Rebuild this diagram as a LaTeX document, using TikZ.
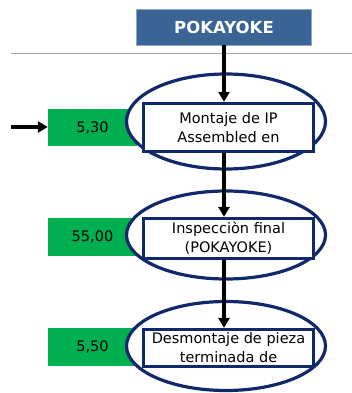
\documentclass[tikz,border=0pt]{standalone}
\usepackage{fontspec}
\setmainfont{DejaVu Sans}
\usepackage{xcolor}
\definecolor{colorHeader}{HTML}{3A6496}
\definecolor{colorHeaderEdge}{HTML}{8FA8C8}
\definecolor{colorNavy}{HTML}{10296B}
\definecolor{colorTime}{HTML}{00B050}
\definecolor{colorRule}{HTML}{A6A6A6}
\usetikzlibrary{arrows.meta, positioning, shapes.geometric}
\tikzset{
  opring/.style={ellipse, draw=colorNavy, line width=3.2pt, fill=white, minimum width=199pt, inner sep=0pt},
  opbox/.style={rectangle, draw=colorNavy, line width=3.2pt, fill=white, align=center, minimum width=170pt, inner sep=0pt, font=\fontsize{14.5}{19}\selectfont},
  timebox/.style={rectangle, fill=colorTime, minimum width=89pt, inner sep=0pt, font=\fontsize{14.5}{17}\selectfont},
  flow/.style={-{Triangle[length=10pt, width=11pt]}, black, line width=3.2pt}
}

\begin{document}
\begin{tikzpicture}[x=1pt, y=-1pt]
\useasboundingbox (0,0) rectangle (352,393);
% header and rule
\node[rectangle, fill=colorHeader, draw=colorHeaderEdge, line width=0.8pt, minimum width=175pt, minimum height=36pt, text=white, font=\fontsize{16.5}{18}\selectfont\bfseries] (pk) at (224,27) {POKAYOKE};
\draw[colorRule, line width=1pt] (11,54) -- (352,54);

% time values
\node[timebox, minimum height=37pt] (t1) at (92.5,127.5) {5,30};
\node[timebox, minimum height=38pt] (t2) at (92.5,237) {55,00};
\node[timebox, minimum height=38pt] (t3) at (92.5,347) {5,50};

% operations
\node[opring, minimum height=95pt] (e1) at (226,121.5) {};
\node[opring, minimum height=88pt] (e2) at (226,235) {};
\node[opring, minimum height=89pt] (e3) at (226,346) {};
\node[opbox, minimum height=48pt] (r1) at (228.5,127.5) {Montaje de IP\\Assembled en};
\node[opbox, minimum height=40pt] (r2) at (228.5,238.5) {Inspecciòn final\\(POKAYOKE)};
\node[opbox, minimum height=37pt] (r3) at (228.5,348) {Desmontaje de pieza\\terminada de};

% connectors
\coordinate (in) at (11,127);
\draw[flow] (in) -- (t1.west |- in);
\draw[flow] (pk.south) -- (pk.south |- r1.north);
\draw[flow] (r1.south -| pk.south) -- (r2.north -| pk.south);
\draw[flow] (r2.south -| pk.south) -- (r3.north -| pk.south);
\end{tikzpicture}
\end{document}
